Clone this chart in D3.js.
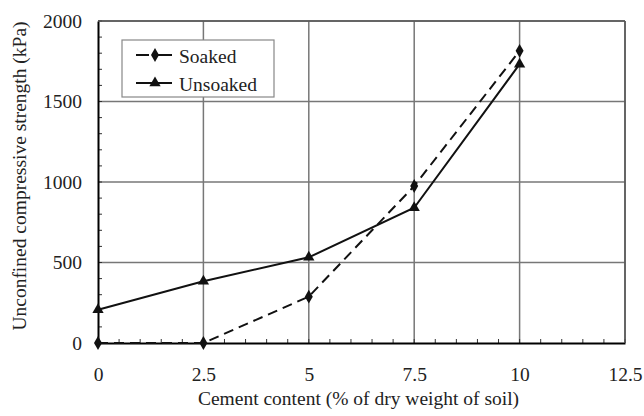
<!DOCTYPE html>
<html>
<head>
<meta charset="utf-8">
<script src="https://cdn.jsdelivr.net/npm/d3@7"></script>
<style>
  body { margin: 0; background: #fff; }
  text { font-family: 'Liberation Serif', 'Times New Roman', serif; fill: #222; }
</style>
</head>
<body>
<div id="svg-container"></div>
<script>
// cement content (%)
const cement = [0, 2.5, 5, 7.5, 10]
// unconfined compressive strength (kPa)
const soaked = [0, 0, 288, 975, 1815]
const unsoaked = [207, 384, 532, 840, 1732]
const xTicks = [0, 2.5, 5, 7.5, 10, 12.5]
const yTicks = [0, 500, 1000, 1500, 2000]
const seriesNames = ['Soaked', 'Unsoaked']

;(function () {
  const svgWidth = 644
  const svgHeight = 416
  const marginTop = 21
  const marginRight = 19
  const marginBottom = 73
  const marginLeft = 98
  const fontSize = '19.5px'
  const fontFamily = "'Liberation Serif', 'Times New Roman', serif"

  const width = svgWidth - marginLeft - marginRight
  const height = svgHeight - marginTop - marginBottom

  const svg = d3
    .select('#svg-container')
    .append('svg')
    .attr('width', svgWidth)
    .attr('height', svgHeight)

  const g = svg
    .append('g')
    .attr('transform', `translate(${marginLeft}, ${marginTop})`)

  const x = d3.scaleLinear().domain([0, 12.5]).range([0, width])
  const y = d3.scaleLinear().domain([0, 2000]).range([height, 0])

  const gridColor = '#777'

  // gridlines
  g.append('g')
    .selectAll('line')
    .data(xTicks.slice(1))
    .join('line')
    .attr('x1', d => x(d))
    .attr('x2', d => x(d))
    .attr('y1', 0)
    .attr('y2', height)
    .attr('stroke', gridColor)
    .attr('stroke-width', 1.5)

  g.append('g')
    .selectAll('line')
    .data(yTicks.slice(1))
    .join('line')
    .attr('x1', 0)
    .attr('x2', width)
    .attr('y1', d => y(d))
    .attr('y2', d => y(d))
    .attr('stroke', gridColor)
    .attr('stroke-width', 1.5)

  // minor ticks (inward)
  const xMinor = d3.range(0, 12.5001, 0.5)
  const yMinor = d3.range(0, 2000.1, 100)

  g.append('g')
    .selectAll('line')
    .data(xMinor)
    .join('line')
    .attr('x1', d => x(d))
    .attr('x2', d => x(d))
    .attr('y1', height)
    .attr('y2', height - 4)
    .attr('stroke', '#333')
    .attr('stroke-width', 1)

  g.append('g')
    .selectAll('line')
    .data(yMinor)
    .join('line')
    .attr('x1', 0)
    .attr('x2', 4)
    .attr('y1', d => y(d))
    .attr('y2', d => y(d))
    .attr('stroke', '#333')
    .attr('stroke-width', 1)

  // axes
  const xAxis = g
    .append('g')
    .attr('transform', `translate(0, ${height})`)
    .call(d3.axisBottom(x).tickValues(xTicks).tickSize(0).tickPadding(24).tickFormat(d => d))
  xAxis.select('.domain').attr('stroke', '#000').attr('stroke-width', 2)
  xAxis
    .selectAll('text')
    .style('font-size', fontSize)
    .style('font-family', fontFamily)
    .attr('fill', '#222')

  const yAxis = g
    .append('g')
    .call(d3.axisLeft(y).tickValues(yTicks).tickSize(0).tickPadding(16).tickFormat(d3.format('d')))
  yAxis.select('.domain').attr('stroke', '#000').attr('stroke-width', 2)
  yAxis
    .selectAll('text')
    .style('font-size', fontSize)
    .style('font-family', fontFamily)
    .attr('fill', '#222')

  // axis titles
  svg
    .append('text')
    .attr('x', marginLeft + width / 2 - 3)
    .attr('y', 405)
    .attr('text-anchor', 'middle')
    .style('font-size', fontSize)
    .text('Cement content (% of dry weight of soil)')

  svg
    .append('text')
    .attr('transform', `translate(26, 176) rotate(-90)`)
    .attr('text-anchor', 'middle')
    .style('font-size', fontSize)
    .text('Unconfined compressive strength (kPa)')

  // lines
  const line = d3
    .line()
    .x(d => x(d[0]))
    .y(d => y(d[1]))

  const soakedData = cement.map((c, i) => [c, soaked[i]])
  const unsoakedData = cement.map((c, i) => [c, unsoaked[i]])

  const diamond = d3.symbol().type(d3.symbolDiamond).size(55)
  const triangle = d3.symbol().type(d3.symbolTriangle).size(55)

  g.append('path')
    .datum(soakedData)
    .attr('d', line)
    .attr('fill', 'none')
    .attr('stroke', '#111')
    .attr('stroke-width', 2)
    .attr('stroke-dasharray', '10,6')

  g.append('path')
    .datum(unsoakedData)
    .attr('d', line)
    .attr('fill', 'none')
    .attr('stroke', '#111')
    .attr('stroke-width', 2)

  g.append('g')
    .selectAll('path')
    .data(soakedData)
    .join('path')
    .attr('transform', d => `translate(${x(d[0])}, ${y(d[1])})`)
    .attr('d', diamond)
    .attr('fill', '#111')

  g.append('g')
    .selectAll('path')
    .data(unsoakedData)
    .join('path')
    .attr('transform', d => `translate(${x(d[0])}, ${y(d[1])})`)
    .attr('d', triangle)
    .attr('fill', '#111')

  // border top / right
  g.append('line')
    .attr('x1', 0).attr('x2', width).attr('y1', 0).attr('y2', 0)
    .attr('stroke', '#555').attr('stroke-width', 1.5)
  g.append('line')
    .attr('x1', width).attr('x2', width).attr('y1', 0).attr('y2', height)
    .attr('stroke', '#555').attr('stroke-width', 1.5)

  // legend
  const legend = svg.append('g').attr('transform', 'translate(122, 40)')
  legend
    .append('rect')
    .attr('width', 152)
    .attr('height', 57)
    .attr('fill', '#fff')
    .attr('stroke', '#888')
    .attr('stroke-width', 1.2)

  seriesNames.forEach((name, i) => {
    const ly = 15 + i * 28
    legend
      .append('line')
      .attr('x1', 14)
      .attr('x2', 50)
      .attr('y1', ly)
      .attr('y2', ly)
      .attr('stroke', '#111')
      .attr('stroke-width', 2)
      .attr('stroke-dasharray', i === 0 ? '13,5,18' : null)
    legend
      .append('path')
      .attr('transform', `translate(33, ${ly})`)
      .attr('d', i === 0 ? diamond : triangle)
      .attr('fill', '#111')
    legend
      .append('text')
      .attr('x', 57)
      .attr('y', ly + 7.5)
      .style('font-size', fontSize)
      .text(name)
  })
})()
</script>
</body>
</html>
